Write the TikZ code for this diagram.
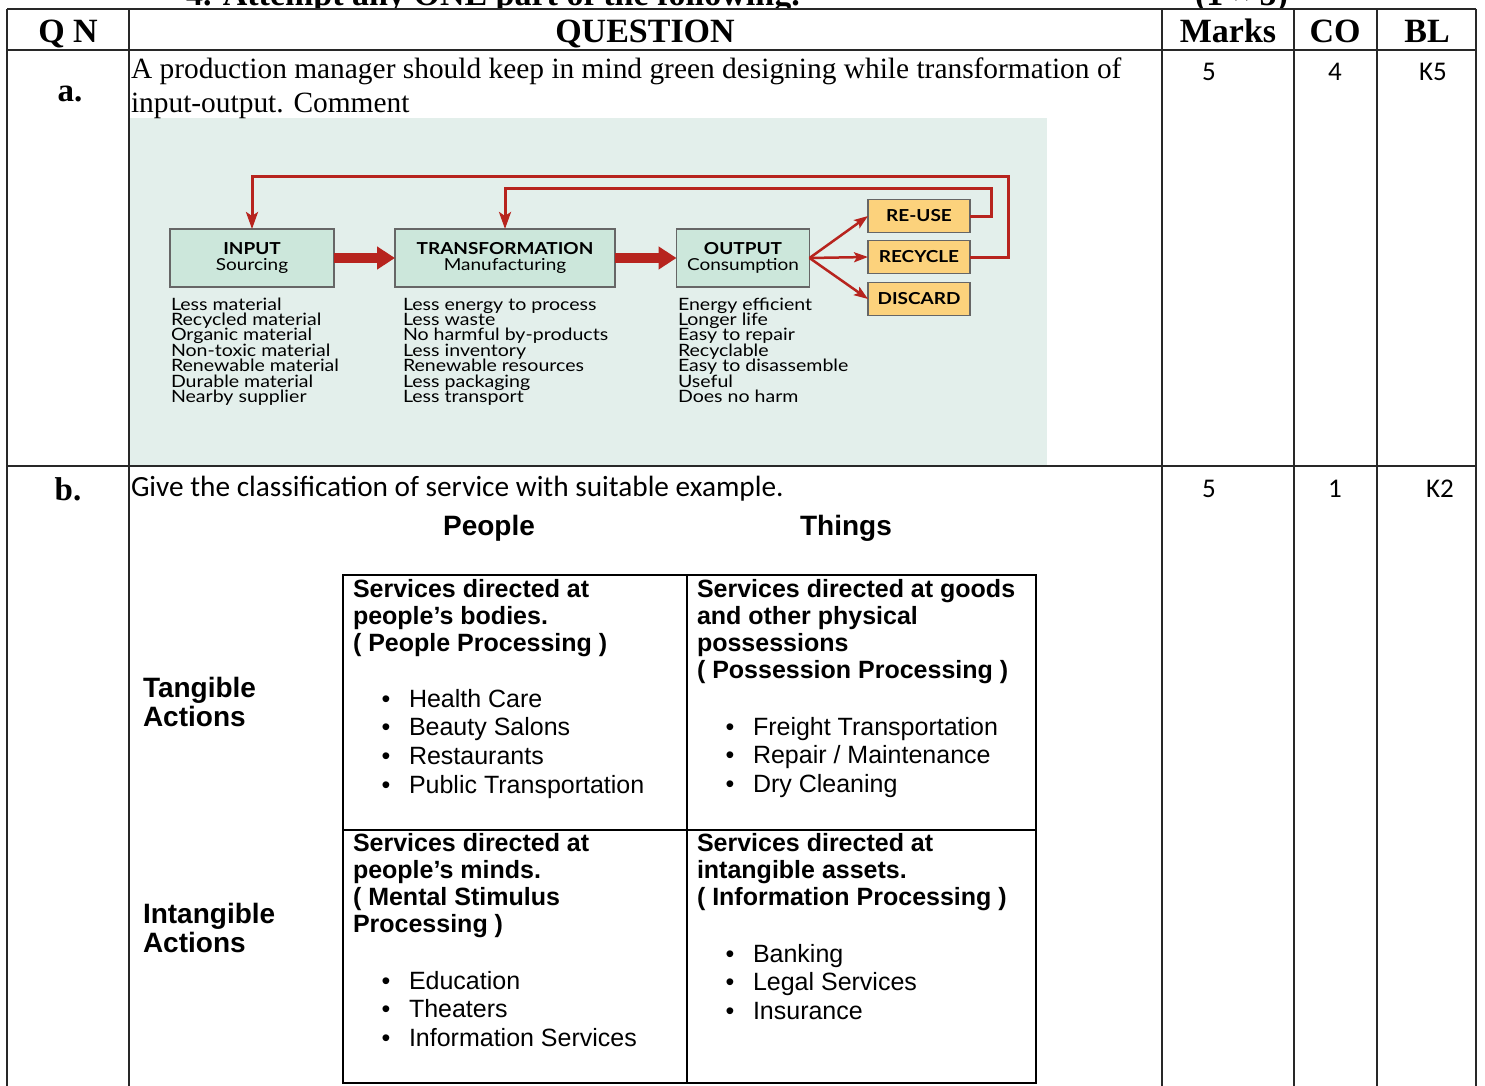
\documentclass[tikz,border=0pt]{standalone}
\usepackage{fontspec}
\setmainfont{Liberation Serif}
\newfontfamily\calfont{Carlito}
\newfontfamily\arfont{Liberation Sans}
\newfontfamily\optfont[FakeStretch=1.15]{Lato}
\usetikzlibrary{arrows.meta,calc}
\newcommand{\fsz}[1]{\fontsize{#1}{#1}\selectfont}
\definecolor{bggreen}{RGB}{227,239,235}
\definecolor{boxgreen}{RGB}{204,231,219}
\definecolor{boxorange}{RGB}{252,210,124}
\definecolor{darkred}{RGB}{183,36,30}
\definecolor{tablegray}{RGB}{40,40,40}
\begin{document}
\begin{tikzpicture}[x=1pt,y=-1pt,
  every node/.style={inner sep=0pt,outer sep=0pt},
  tline/.style={draw=tablegray,line width=1.4pt},
  hdr/.style={font=\bfseries\fsz{34},anchor=base},
  qtext/.style={font=\fsz{29.4},anchor=base west},
  calt/.style={font=\calfont\fsz{27},anchor=base},
  gbox/.style={draw=black!60,line width=1.2pt,fill=boxgreen,align=center,font=\optfont\fsz{16.5},minimum height=58},
  obox/.style={draw=black!60,line width=1.2pt,fill=boxorange,font=\optfont\bfseries\fsz{16.5},minimum width=102,minimum height=33},
  lst/.style={font=\optfont\fsz{17},anchor=base west},
  bigarrow/.style={draw=darkred,line width=10pt,-{Triangle[length=18pt,width=22pt]}},
  fb/.style={draw=darkred,line width=3pt,-{Stealth[length=17pt,width=12pt,inset=4pt]}},
  fan/.style={draw=darkred,line width=2.5pt,-{Stealth[length=14pt,width=10pt,inset=3pt]}},
  cellb/.style={font=\arfont\bfseries\fsz{25},anchor=base west},
  cellr/.style={font=\arfont\fsz{25},anchor=base west},
  bul/.style={font=\arfont\fsz{25},anchor=base},
  axl/.style={font=\arfont\bfseries\fsz{28},anchor=base west},
  gridl/.style={draw=black,line width=2pt}
]
\useasboundingbox (0,0) rectangle (1485,1086);
\fill[white] (0,0) rectangle (1485,1086);

% partially visible title line (cut off at the top edge, as in the reference)
\begin{scope}
\clip (0,0) rectangle (1485,8.5);
\node[font=\bfseries\fsz{34},anchor=base west] (title) at (186,6) {4. Attempt any ONE part of the following.};
\node[font=\bfseries\fsz{34},anchor=base west] (tmarks) at (1195,6) {(1 × 5)};
\end{scope}

% diagram background
\fill[bggreen] (130,118) rectangle (1047,466);

% table rules
\draw[tline] (7,9) -- (1476,9);
\draw[tline] (7,50) -- (1476,50);
\draw[tline] (7,466) -- (1476,466);
\foreach \xx in {7,129,1162,1294,1377,1476} \draw[tline] (\xx,9) -- (\xx,1086);

% header
\node[hdr] (hqn) at (68,43) {Q N};
\node[hdr] (hq) at (645,43) {QUESTION};
\node[hdr] (hm) at (1228,43) {Marks};
\node[hdr] (hco) at (1335,43) {CO};
\node[hdr] (hbl) at (1427,43) {BL};

% row a
\node[font=\bfseries\fsz{33},anchor=base] (ra) at (70,102) {a.};
\node[qtext] (qa1) at (131,79) {A production manager should keep in mind green designing while transformation of};
\node[qtext] (qa2) at (131,113) {input-output. Comment};
\node[calt] (ma) at (1209,81) {5};
\node[calt] (ca) at (1335,81) {4};
\node[calt] (ba) at (1433,81) {K5};

% diagram
\node[gbox,minimum width=164] (in) at (252,258) {\textbf{INPUT}\\Sourcing};
\node[gbox,minimum width=220] (tr) at (505,258) {\textbf{TRANSFORMATION}\\Manufacturing};
\node[gbox,minimum width=133] (out) at (743,258) {\textbf{OUTPUT}\\Consumption};
\node[obox] (reuse) at (919,216) {RE-USE};
\node[obox] (recycle) at (919,257) {RECYCLE};
\node[obox] (discard) at (919,299) {DISCARD};

\draw[bigarrow] (in.east) -- (tr.west);
\draw[bigarrow] (tr.east) -- (out.west);
\draw[fan] (out.east) -- (reuse.west);
\draw[fan] (out.east) -- (recycle.west);
\draw[fan] (out.east) -- (discard.west);
\draw[fb] (recycle.east) -| ($(recycle.east)+(38,-80)$) -| (in.north);
\draw[fb] (reuse.east) -| ($(reuse.east)+(21,-27)$) -| (tr.north);

\foreach \t [count=\i from 0] in {Less material,Recycled material,Organic material,Non-toxic material,Renewable material,Durable material,Nearby supplier}
  \node[lst] (la\i) at (171,310+15.4*\i) {\t};
\foreach \t [count=\i from 0] in {Less energy to process,Less waste,No harmful by-products,Less inventory,Renewable resources,Less packaging,Less transport}
  \node[lst] (lb\i) at (403,310+15.4*\i) {\t};
\foreach \t [count=\i from 0] in {Energy efficient,Longer life,Easy to repair,Recyclable,Easy to disassemble,Useful,Does no harm}
  \node[lst] (lc\i) at (678,310+15.4*\i) {\t};

% row b
\node[font=\bfseries\fsz{33},anchor=base] (rb) at (68,500) {b.};
\node[font=\calfont\fsz{29.3},anchor=base west] (qb) at (131,496) {Give the classification of service with suitable example.};
\node[calt] (mb) at (1209,497) {5};
\node[calt] (cb) at (1335,497) {1};
\node[calt] (bb) at (1440,497) {K2};

\node[font=\arfont\bfseries\fsz{28},anchor=base] (people) at (489,535) {People};
\node[font=\arfont\bfseries\fsz{28},anchor=base] (things) at (846,535) {Things};
\node[axl] (tang1) at (143,697) {Tangible};
\node[axl] (tang2) at (143,726) {Actions};
\node[axl] (intg1) at (143,923) {Intangible};
\node[axl] (intg2) at (143,952) {Actions};

\draw[gridl] (343,575) rectangle (1036,1083);
\draw[gridl] (687,575) -- (687,1083);
\draw[gridl] (343,830) -- (1036,830);

\foreach \t [count=\i from 0] in {Services directed at,people’s bodies.,{( People Processing )}}
  \node[cellb] (tlh\i) at (353,597+27*\i) {\t};
\foreach \t [count=\i from 0] in {Health Care,Beauty Salons,Restaurants,Public Transportation}{
  \node[bul] (tlp\i) at (386,707+28.7*\i) {•};
  \node[cellr] (tlb\i) at (409,707+28.7*\i) {\t};}

\foreach \t [count=\i from 0] in {Services directed at goods,and other physical,possessions,{( Possession Processing )}}
  \node[cellb] (trh\i) at (697,597+27*\i) {\t};
\foreach \t [count=\i from 0] in {Freight Transportation,{Repair / Maintenance},Dry Cleaning}{
  \node[bul] (trp\i) at (730,735+28.5*\i) {•};
  \node[cellr] (trb\i) at (753,735+28.5*\i) {\t};}

\foreach \t [count=\i from 0] in {Services directed at,people’s minds.,{( Mental Stimulus},{Processing )}}
  \node[cellb] (blh\i) at (353,851+27.3*\i) {\t};
\foreach \t [count=\i from 0] in {Education,Theaters,Information Services}{
  \node[bul] (blp\i) at (386,989+28.5*\i) {•};
  \node[cellr] (blb\i) at (409,989+28.5*\i) {\t};}

\foreach \t [count=\i from 0] in {Services directed at,intangible assets.,{( Information Processing )}}
  \node[cellb] (brh\i) at (697,851+27*\i) {\t};
\foreach \t [count=\i from 0] in {Banking,Legal Services,Insurance}{
  \node[bul] (brp\i) at (730,962+28.5*\i) {•};
  \node[cellr] (brb\i) at (753,962+28.5*\i) {\t};}
\end{tikzpicture}
\end{document}
